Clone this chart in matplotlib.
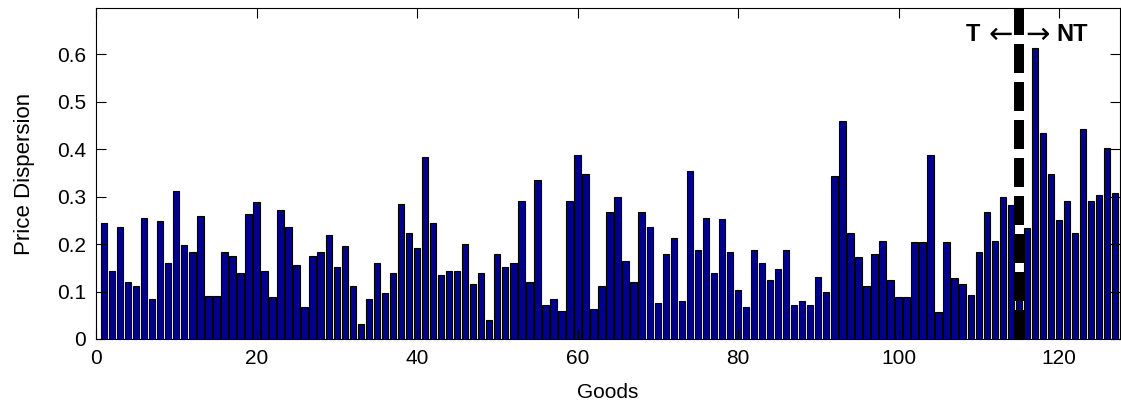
import numpy as np
import matplotlib.pyplot as plt

# price dispersion per good (goods 1..128)
goods = np.arange(1, 129)
dispersion = [
    0.244, 0.144, 0.236, 0.120, 0.112, 0.255, 0.084, 0.248, 0.160, 0.312,
    0.199, 0.184, 0.259, 0.091, 0.091, 0.184, 0.175, 0.140, 0.264, 0.288,
    0.144, 0.088, 0.271, 0.236, 0.156, 0.068, 0.175, 0.184, 0.219, 0.152,
    0.196, 0.112, 0.032, 0.084, 0.160, 0.096, 0.140, 0.284, 0.224, 0.191,
    0.383, 0.244, 0.136, 0.144, 0.144, 0.200, 0.116, 0.140, 0.040, 0.179,
    0.152, 0.160, 0.291, 0.120, 0.335, 0.072, 0.084, 0.060, 0.291, 0.387,
    0.347, 0.064, 0.112, 0.267, 0.300, 0.164, 0.120, 0.267, 0.236, 0.076,
    0.180, 0.212, 0.080, 0.355, 0.188, 0.255, 0.140, 0.252, 0.184, 0.104,
    0.068, 0.188, 0.160, 0.124, 0.148, 0.188, 0.072, 0.080, 0.072, 0.131,
    0.100, 0.343, 0.459, 0.224, 0.172, 0.112, 0.179, 0.207, 0.124, 0.088,
    0.088, 0.204, 0.204, 0.387, 0.056, 0.204, 0.128, 0.116, 0.092, 0.184,
    0.267, 0.207, 0.299, 0.283, 0.110, 0.235, 0.614, 0.435, 0.347, 0.251,
    0.291, 0.223, 0.442, 0.291, 0.303, 0.403, 0.307, 0.205,
]
cutoff = 115  # tradables / non-tradables split

x_ticks = [0, 20, 40, 60, 80, 100, 120]
y_ticks = [0, 0.1, 0.2, 0.3, 0.4, 0.5, 0.6]

plt.rcParams['font.family'] = ['Liberation Sans', 'DejaVu Sans']

fig = plt.figure(figsize=(11.21, 4.09), dpi=100)
ax = fig.add_axes([96 / 1121, 1 - 339 / 409, 1024 / 1121, 331 / 409])

ax.bar(goods, dispersion, width=0.8, color='#00008C', edgecolor='black', linewidth=0.8)

ax.axvline(cutoff, color='black', linewidth=7.2, dashes=(2.9, 0.9), dash_capstyle='butt')

# T <- | -> NT annotation
ax.text(cutoff - 4.8, 0.628, 'T', ha='right', va='baseline', fontsize=17, fontweight='bold')
ax.text(cutoff - 2.3, 0.625, '\u2190', ha='center', va='baseline', fontsize=21,
        family='DejaVu Sans')
ax.text(cutoff + 2.3, 0.625, '\u2192', ha='center', va='baseline', fontsize=21,
        family='DejaVu Sans')
ax.text(cutoff + 4.7, 0.628, 'NT', ha='left', va='baseline', fontsize=17, fontweight='bold')

ax.set_xlim(0.1, 127.6)
ax.set_ylim(0, 0.698)
ax.set_xticks(x_ticks)
ax.set_yticks(y_ticks)
ax.set_yticklabels(['0', '0.1', '0.2', '0.3', '0.4', '0.5', '0.6'])
ax.tick_params(direction='in', length=7, width=0.8, labelsize=15, pad=7,
               top=True, right=True)
ax.set_xlabel('Goods', fontsize=15, labelpad=11)
ax.set_ylabel('Price Dispersion', fontsize=16, labelpad=16)

fig.savefig('out.png', dpi=100)
